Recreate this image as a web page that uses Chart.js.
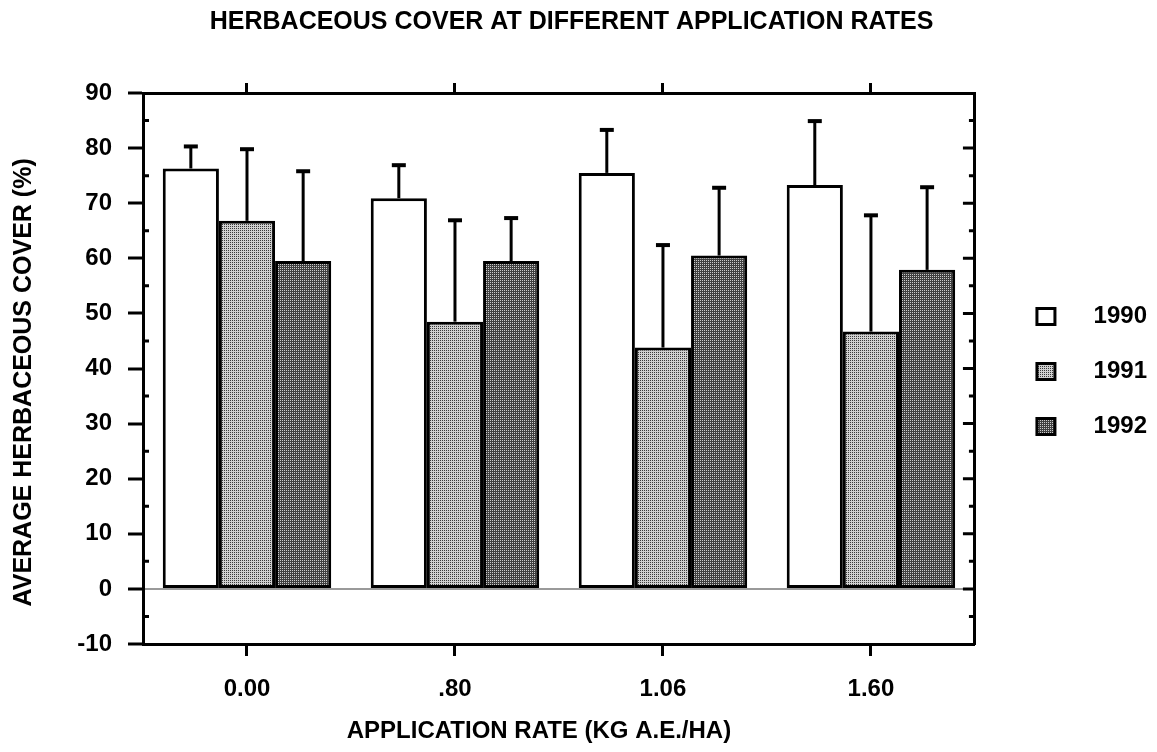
<!DOCTYPE html>
<html>
<head>
<meta charset="utf-8">
<script src="https://cdn.jsdelivr.net/npm/chart.js@4"></script>
<style>
  html, body { margin: 0; padding: 0; background: #fff; }
  #wrap { width: 1157px; height: 752px; }
</style>
</head>
<body>
<div id="wrap"><canvas id="herbChart" width="1157" height="752"></canvas></div>
<script>
// application rates (categories)
const rates = ["0.00", ".80", "1.06", "1.60"];
const years = ["1990", "1991", "1992"];

// average herbaceous cover (%) per year
const cover1990 = [76.3, 70.9, 75.5, 73.3];
const cover1991 = [66.8, 48.5, 43.8, 46.7];
const cover1992 = [59.5, 59.5, 60.5, 57.9];

// upper error bar length (%)
const err1990 = [4.0, 6.0, 7.8, 11.6];
const err1991 = [13.0, 18.4, 18.6, 21.1];
const err1992 = [16.3, 7.8, 12.3, 15.0];

const FONT = "'Liberation Sans', Arial, Helvetica, sans-serif";

// stipple fills like the old printout
function makeStipple(base, dot) {
  const c = document.createElement("canvas");
  c.width = 4;
  c.height = 4;
  const g = c.getContext("2d");
  g.fillStyle = base;
  g.fillRect(0, 0, 4, 4);
  g.fillStyle = dot;
  g.fillRect(0, 0, 1, 1);
  g.fillRect(2, 2, 1, 1);
  g.fillRect(2, 0, 1, 1);
  g.fillRect(0, 2, 1, 1);
  return g.createPattern(c, "repeat");
}
const ctx = document.getElementById("herbChart").getContext("2d");
const fill1991 = makeStipple("#d0d0d0", "#3a3a3a");
const fill1992 = makeStipple("#404040", "#cccccc");

// upper whiskers drawn from the bar tops
const errorBars = {
  id: "errorBars",
  afterDatasetsDraw(chart) {
    const c = chart.ctx;
    const yScale = chart.scales.y;
    chart.data.datasets.forEach((ds, i) => {
      const meta = chart.getDatasetMeta(i);
      meta.data.forEach((bar, j) => {
        const top = yScale.getPixelForValue(ds.data[j] + ds.errors[j]);
        c.save();
        c.strokeStyle = "#000";
        c.lineWidth = 3;
        c.beginPath();
        c.moveTo(bar.x, bar.y);
        c.lineTo(bar.x, top);
        c.stroke();
        c.lineWidth = 4;
        c.beginPath();
        c.moveTo(bar.x - 7, top);
        c.lineTo(bar.x + 7, top);
        c.stroke();
        c.restore();
      });
    });
  },
};

// inward tick marks on the left (minor) and right frame
const frameTicks = {
  id: "frameTicks",
  afterDraw(chart) {
    const c = chart.ctx;
    const y = chart.scales.y;
    const area = chart.chartArea;
    c.save();
    c.strokeStyle = "#000";
    c.lineWidth = 3;
    c.beginPath();
    for (let v = -10; v <= 90; v += 5) {
      const py = y.getPixelForValue(v);
      const major = v % 10 === 0;
      if (!major) {
        c.moveTo(area.left, py);
        c.lineTo(area.left + 6, py);
      }
      if (v > -10 && v < 90) {
        c.moveTo(area.right, py);
        c.lineTo(area.right - (major ? 12 : 6), py);
      }
    }
    c.stroke();
    c.restore();
  },
};

function bars(label, data, errors, fill) {
  return {
    label: label,
    data: data,
    errors: errors,
    backgroundColor: fill,
    borderColor: "#000",
    borderWidth: 3,
    borderSkipped: false,
    categoryPercentage: 0.81,
    barPercentage: 1.0,
  };
}

Chart.defaults.color = "#000";
Chart.defaults.font.family = FONT;
Chart.defaults.font.weight = "bold";

new Chart(ctx, {
  type: "bar",
  data: {
    labels: rates,
    datasets: [
      bars(years[0], cover1990, err1990, "#ffffff"),
      bars(years[1], cover1991, err1991, fill1991),
      bars(years[2], cover1992, err1992, fill1992),
    ],
  },
  options: {
    responsive: false,
    animation: false,
    layout: { padding: { left: 0, right: 0, top: 0, bottom: 0 } },
    plugins: {
      title: {
        display: true,
        // trailing spaces nudge the centred title a little to the left
        text: "HERBACEOUS COVER AT DIFFERENT APPLICATION RATES  ",
        font: { size: 25, weight: "bold" },
        color: "#000",
        padding: { top: 7, bottom: 46 },
      },
      legend: {
        position: "right",
        fullSize: false,
        title: { display: true, text: "", font: { size: 5 }, padding: 0 },
        labels: {
          font: { size: 24, weight: "bold" },
          boxWidth: 18,
          boxHeight: 16,
          padding: 31,
          generateLabels(chart) {
            return chart.data.datasets.map((ds, i) => ({
              text: "    " + ds.label,
              fillStyle: ds.backgroundColor,
              strokeStyle: "#000",
              lineWidth: 3,
              datasetIndex: i,
            }));
          },
        },
      },
      tooltip: { enabled: false },
    },
    scales: {
      x: {
        position: "bottom",
        offset: true,
        grid: {
          offset: false,
          drawOnChartArea: false,
          tickLength: 12,
          tickWidth: 3,
          tickColor: "#000",
        },
        border: { display: true, color: "#000", width: 3 },
        ticks: { font: { size: 24 }, padding: 19 },
        title: {
          display: true,
          text: "APPLICATION RATE (KG A.E./HA)      ",
          font: { size: 24 },
          padding: { top: 11, bottom: 6 },
        },
        afterFit(scale) {
          scale.height = 108;
        },
      },
      x2: {
        type: "category",
        labels: rates,
        position: "top",
        offset: true,
        grid: {
          offset: false,
          drawOnChartArea: false,
          tickLength: 10,
          tickWidth: 3,
          tickColor: "#000",
        },
        border: { display: true, color: "#000", width: 3 },
        ticks: { display: false },
      },
      y: {
        position: "left",
        min: -10,
        max: 90,
        ticks: { stepSize: 10, font: { size: 24 }, padding: 16 },
        grid: {
          drawOnChartArea: true,
          color: (c) => (c.tick && c.tick.value === 0 ? "#9a9a9a" : "rgba(0,0,0,0)"),
          lineWidth: (c) => (c.tick && c.tick.value === 0 ? 2 : 0),
          tickColor: "#000",
          tickLength: 15,
          tickWidth: 3,
        },
        border: { display: true, color: "#000", width: 3 },
        title: {
          display: true,
          text: "AVERAGE HERBACEOUS COVER (%)    ",
          font: { size: 25 },
          padding: { top: 9, bottom: 20 },
        },
        afterFit(scale) {
          scale.width = 143;
        },
      },
      y2: {
        position: "right",
        min: -10,
        max: 90,
        ticks: { display: false },
        grid: { drawOnChartArea: false, drawTicks: false },
        border: { display: true, color: "#000", width: 3 },
        afterFit(scale) {
          scale.width = 31;
        },
      },
    },
  },
  plugins: [errorBars, frameTicks],
});
</script>
</body>
</html>
